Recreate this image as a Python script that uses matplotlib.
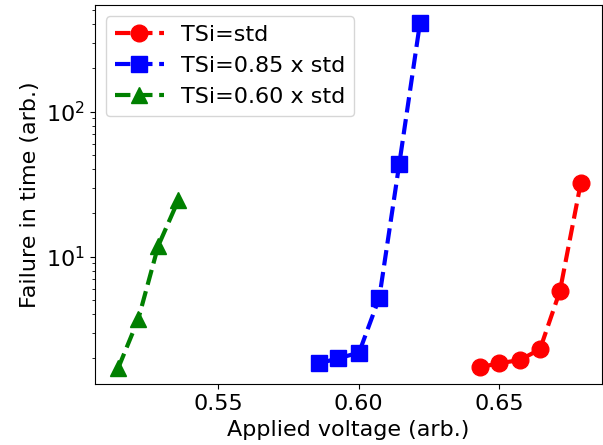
import matplotlib
matplotlib.use("Agg")
import matplotlib.pyplot as plt

x_std = [0.6431, 0.6500, 0.6574, 0.6645, 0.6716, 0.6790]
y_std = [1.73, 1.84, 1.94, 2.30, 5.80, 32.1]
x_085 = [0.5859, 0.5927, 0.6001, 0.6073, 0.6144, 0.6218]
y_085 = [1.84, 1.99, 2.18, 5.21, 43.4, 411.0]
x_060 = [0.5144, 0.5215, 0.5286, 0.5358]
y_060 = [1.71, 3.70, 11.85, 24.6]
labels = ["TSi=std", "TSi=0.85 x std", "TSi=0.60 x std"]

fig = plt.figure(figsize=(6.03, 4.45), dpi=100)
ax = fig.add_axes([0.157, 0.1364, 0.841, 0.8524])
ax.plot(x_std, y_std, 'r--o', lw=3, ms=12, label=labels[0])
ax.plot(x_085, y_085, 'b--s', lw=3, ms=12, label=labels[1])
ax.plot(x_060, y_060, 'g--^', lw=3, ms=12, label=labels[2])
ax.set_yscale('log')
ax.set_xlim(0.506, 0.6865)
ax.set_ylim(1.318, 545)
ax.set_xticks([0.55, 0.60, 0.65])
ax.set_xticklabels(["0.55", "0.60", "0.65"])
ax.tick_params(labelsize=16)
ax.set_xlabel("Applied voltage (arb.)", fontsize=16)
ax.set_ylabel("Failure in time (arb.)", fontsize=16)
ax.legend(fontsize=16, loc='upper left', handlelength=2.2)
fig.savefig("out.png", dpi=100)
